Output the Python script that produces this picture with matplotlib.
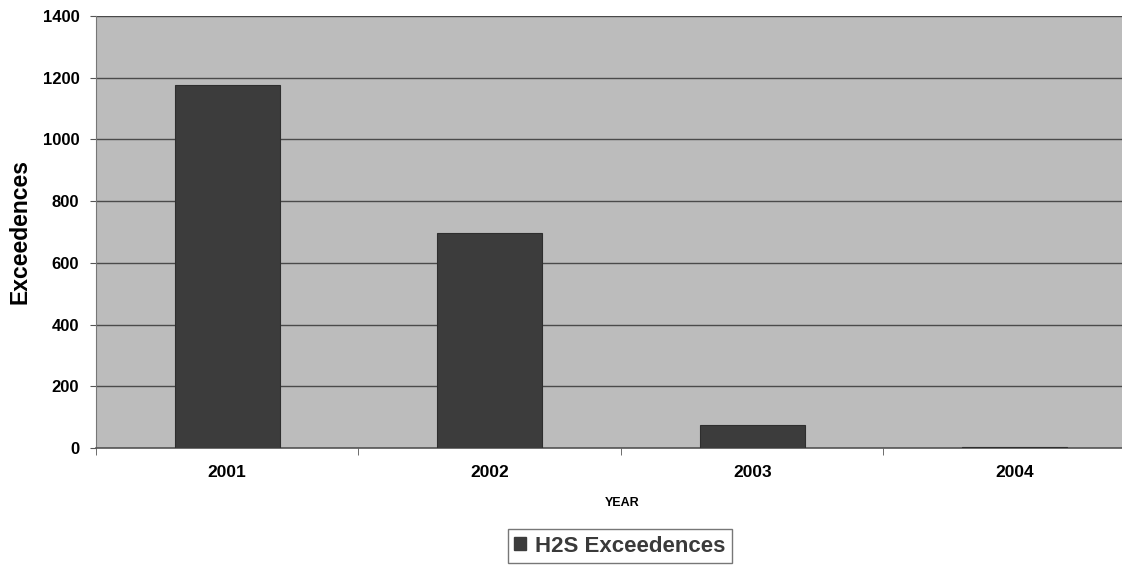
import matplotlib
matplotlib.use("Agg")
import matplotlib.pyplot as plt
from matplotlib.patches import Patch

years = ["2001", "2002", "2003", "2004"]
exceedences = [1175, 697, 75, 3]
yticks = [0, 200, 400, 600, 800, 1000, 1200, 1400]

plt.rcParams['font.family'] = ['Liberation Sans', 'DejaVu Sans']

fig = plt.figure(figsize=(11.22, 5.66), dpi=100)
ax = fig.add_axes([96 / 1122, 118 / 566, 1050 / 1122, 432 / 566])
ax.set_facecolor("#bcbcbc")

x = list(range(len(years)))
ax.bar(x, exceedences, width=0.4, color="#3c3c3c", edgecolor="#2e2e2e",
       linewidth=0.8, zorder=3)

ax.set_xlim(-0.5, len(years) - 0.5)
ax.set_ylim(0, 1400)
ax.set_yticks(yticks)
ax.set_yticklabels([str(v) for v in yticks], fontsize=12, fontweight="bold")
ax.yaxis.grid(True, color="#4a4a4a", linewidth=1.0, zorder=1)
ax.set_axisbelow(True)

# category labels in the middle, tick marks on the boundaries
ax.set_xticks(x)
ax.set_xticklabels(years, fontsize=12.5, fontweight="bold")
ax.tick_params(axis="x", length=0, pad=12)
ax.set_xticks([i - 0.5 for i in range(len(years) + 1)], minor=True)
ax.tick_params(axis="x", which="minor", length=5, color="#555555")
ax.tick_params(axis="y", length=4, color="#555555", pad=8)

for side in ["top", "right"]:
    ax.spines[side].set_visible(False)
ax.spines["left"].set_color("#777777")
ax.spines["bottom"].set_color("#555555")
ax.spines["bottom"].set_linewidth(1.2)

ax.set_ylabel("Exceedences", fontsize=16.5, fontweight="bold", labelpad=8)
fig.text(622 / 1122, 1 - 503 / 566, "YEAR", fontsize=9, fontweight="bold",
         ha="center", va="center")

handle = Patch(facecolor="#3c3c3c", edgecolor="#3c3c3c")
leg = fig.legend([handle], ["H2S Exceedences"], loc="center",
                 bbox_to_anchor=(620 / 1122, 1 - 546 / 566),
                 prop={"size": 16, "weight": "bold"}, frameon=True,
                 fancybox=False, handlelength=0.55, handleheight=0.55,
                 handletextpad=0.4, borderpad=0.3)
leg.get_frame().set_edgecolor("#555555")
leg.get_frame().set_linewidth(1.0)
for t in leg.get_texts():
    t.set_color("#3a3a3a")

fig.savefig("out.png", dpi=100, facecolor="white")
